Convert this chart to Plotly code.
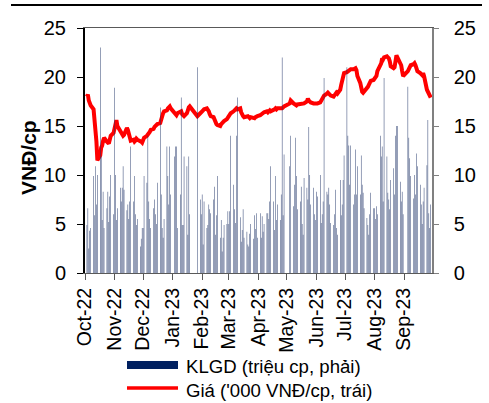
import pandas as pd
import plotly.graph_objects as go

# ---- data ----
months = ["2022-10", "2022-11", "2022-12", "2023-01", "2023-02", "2023-03",
          "2023-04", "2023-05", "2023-06", "2023-07", "2023-08", "2023-09"]
holidays = ["2023-01-02", "2023-01-20", "2023-01-23", "2023-01-24", "2023-01-25",
            "2023-01-26", "2023-05-01", "2023-05-02", "2023-05-03",
            "2023-09-01", "2023-09-04"]

price_oct = [18.0, 18.2, 17.6, 17.3, 17.1, 16.7, 15.8, 14.6, 13.4, 11.5, 12.0, 12.8, 13.0, 13.5, 13.8, 13.4, 13.3, 13.2, 13.6, 14.0, 14.3]
price_nov = [14.8, 15.3, 15.6, 15.0, 14.5, 14.3, 14.2, 14.0, 14.1, 14.8, 14.6, 14.2, 13.9, 13.5, 13.6, 13.4, 13.5, 13.7, 13.6, 13.5, 13.4, 13.3]
price_dec = [13.5, 13.8, 14.0, 14.1, 14.3, 14.4, 14.6, 14.7, 14.9, 15.0, 15.1, 15.2, 15.3, 15.8, 16.1, 16.3, 16.5, 16.6, 16.8, 16.9, 17.0, 16.8]
price_jan = [16.4, 16.3, 16.1, 16.3, 16.4, 16.5, 16.2, 16.0, 16.0, 16.3, 16.7, 16.9, 17.0, 16.0, 16.3, 16.5]
price_feb = [16.5, 16.6, 16.7, 16.8, 16.7, 16.5, 16.2, 16.0, 15.9, 15.6, 15.3, 15.2, 15.1, 15.0, 15.2, 15.3, 15.5, 15.5, 15.7, 15.9]
price_mar = [16.0, 16.2, 16.3, 16.5, 16.6, 16.7, 16.8, 16.7, 16.8, 16.4, 16.1, 16.0, 15.9, 16.0, 16.0, 15.9, 15.8, 15.9, 15.8, 15.8, 15.9, 16.0, 16.0]
price_apr = [16.1, 16.2, 16.3, 16.3, 16.4, 16.5, 16.4, 16.5, 16.6, 16.5, 16.6, 16.7, 16.8, 16.7, 16.8, 16.8, 16.7, 16.8, 16.9, 17.0]
price_may = [17.3, 17.6, 17.3, 17.2, 17.2, 17.1, 17.2, 17.2, 17.3, 17.2, 17.3, 17.3, 17.5, 17.8, 17.6, 17.5, 17.4, 17.3, 17.3, 17.2]
price_jun = [17.3, 17.3, 17.4, 17.6, 17.8, 18.0, 18.1, 18.3, 18.4, 18.3, 18.2, 18.1, 18.0, 18.2, 18.3, 18.4, 18.3, 18.7, 19.2, 19.6, 20.0, 20.4]
price_jul = [20.5, 20.6, 20.6, 20.7, 20.8, 20.8, 20.9, 20.9, 20.7, 20.1, 19.4, 18.7, 18.5, 18.4, 18.5, 18.8, 19.0, 19.2, 19.4, 19.6, 19.7]
price_aug = [19.8, 20.0, 20.1, 20.6, 21.1, 21.4, 21.9, 21.8, 22.0, 22.1, 22.0, 21.9, 21.6, 21.1, 20.9, 21.0, 21.6, 22.2, 22.0, 21.5, 21.2, 20.6, 20.1]
price_sep = [20.6, 20.8, 21.0, 21.2, 21.3, 21.4, 21.2, 20.9, 20.6, 20.4, 20.3, 20.2, 20.4, 20.1, 18.7, 18.5, 18.4, 18.1, 17.9]

vol_oct = [4.9, 6.6, 2.5, 4.3, 4.6, 9.9, 5.9, 10.9, 7.0, 10.0, 23.0, 11.9, 5.4, 8.3, 4.6, 6.6, 8.3, 5.2, 7.8, 10.0, 6.0]
vol_nov = [18.9, 10.0, 5.4, 6.6, 8.7, 7.3, 8.7, 10.9, 8.5, 6.4, 7.0, 5.5, 7.3, 12.9, 7.3, 9.9, 6.0, 4.9, 5.5, 2.7, 3.5, 4.6]
vol_dec = [4.6, 9.9, 9.2, 14.0, 7.3, 5.5, 4.6, 6.6, 7.5, 6.0, 5.0, 9.2, 16.9, 8.0, 4.6, 3.6, 5.5, 12.9, 9.9, 7.0, 12.9, 8.0]
vol_jan = [11.9, 12.9, 12.9, 4.6, 8.0, 17.9, 4.9, 4.9, 11.9, 10.9, 3.9, 11.9, 6.0, 21.0, 7.5, 6.0]
vol_feb = [8.0, 2.9, 7.3, 4.6, 4.9, 7.0, 6.5, 6.1, 7.5, 8.8, 3.9, 5.9, 9.9, 3.6, 5.4, 2.2, 3.6, 4.9, 5.0, 6.3]
vol_mar = [5.0, 6.3, 14.0, 9.0, 6.5, 5.1, 14.0, 17.9, 5.7, 3.2, 4.4, 6.5, 3.6, 4.2, 2.9, 2.7, 4.0, 5.0, 3.5, 5.9, 4.5, 6.1, 3.6]
vol_apr = [6.1, 3.6, 5.8, 4.2, 5.0, 6.1, 6.1, 5.5, 7.3, 10.9, 7.3, 4.4, 9.9, 5.4, 7.0, 5.4, 8.0, 22.0, 5.9, 12.1]
vol_may = [10.9, 14.0, 6.8, 9.0, 13.8, 9.9, 6.5, 7.3, 8.8, 5.0, 3.9, 9.7, 8.7, 7.5, 14.9, 10.0, 7.0, 8.7, 6.0, 5.4]
vol_jun = [8.3, 7.8, 10.0, 5.1, 6.0, 7.3, 19.9, 8.3, 8.0, 8.7, 7.0, 5.1, 4.9, 6.0, 8.5, 4.6, 3.9, 9.5, 5.9, 7.0, 9.5, 12.0]
vol_jul = [21.0, 14.0, 13.0, 9.0, 13.0, 7.0, 8.0, 12.6, 8.0, 10.9, 8.0, 12.0, 9.0, 8.2, 6.6, 5.6, 4.9, 3.9, 6.0, 8.2, 6.6]
vol_aug = [6.6, 5.5, 6.8, 6.0, 14.0, 11.9, 12.9, 7.3, 19.9, 11.9, 8.2, 7.5, 6.5, 9.5, 10.7, 8.0, 14.0, 15.0, 15.0, 9.3, 7.3, 8.3, 6.0]
vol_sep = [19.0, 13.8, 11.7, 9.9, 7.6, 10.0, 8.0, 12.2, 10.9, 9.0, 7.0, 5.0, 7.3, 8.7, 11.0, 15.6, 6.1, 4.6, 7.0]

price_name = "Giá ('000 VNĐ/cp, trái)"
vol_name = "KLGD (triệu cp, phải)"
y_title = "VNĐ/cp"
y_ticks = [0, 5, 10, 15, 20, 25]

price_months = [price_oct, price_nov, price_dec, price_jan, price_feb, price_mar,
                price_apr, price_may, price_jun, price_jul, price_aug, price_sep]
vol_months = [vol_oct, vol_nov, vol_dec, vol_jan, vol_feb, vol_mar,
              vol_apr, vol_may, vol_jun, vol_jul, vol_aug, vol_sep]

# ---- build trading-day calendar ----
hol = set(pd.to_datetime(holidays))
dates, price, vol = [], [], []
for m, p_list, v_list in zip(months, price_months, vol_months):
    start = pd.Timestamp(m + "-01")
    end = start + pd.offsets.MonthEnd(0)
    days = [d for d in pd.bdate_range(start, end) if d not in hol]
    n = min(len(days), len(p_list), len(v_list))
    dates += days[:n]
    price += p_list[:n]
    vol += v_list[:n]

FONT = "Liberation Sans, Arial, sans-serif"

fig = go.Figure()
fig.add_trace(go.Bar(
    x=dates, y=vol, name=vol_name, yaxis="y2",
    marker=dict(color="rgba(31,52,104,0.99)", line=dict(width=0)),
    width=0.5 * 86400000, showlegend=False,
))
fig.add_trace(go.Scatter(
    x=dates, y=price, name=price_name, mode="lines", yaxis="y",
    line=dict(color="#ff0000", width=4), showlegend=False,
))

W, H = 489, 403
# plot area in page px: x 85..432, y 28..273
L, R, T, B = 85, 432, 28, 273
pw, ph = R - L, B - T
def px(x):
    return (x - L) / pw
def py(y):
    return (B - y) / ph

shapes = [
    dict(type="line", xref="paper", yref="paper", x0=px(11), x1=px(482),
         y0=py(5), y1=py(5), line=dict(color="black", width=2)),
    dict(type="rect", xref="paper", yref="paper", x0=px(127), x1=px(178),
         y0=py(369), y1=py(361), fillcolor="#002060", line=dict(width=0)),
    dict(type="line", xref="paper", yref="paper", x0=px(127), x1=px(178),
         y0=py(388), y1=py(388), line=dict(color="#ff0000", width=3.5)),
]
annotations = [
    dict(text=vol_name, xref="paper", yref="paper", x=px(184), y=py(366),
         xanchor="left", yanchor="middle", showarrow=False,
         font=dict(family=FONT, size=18.6, color="black")),
    dict(text=price_name, xref="paper", yref="paper", x=px(184), y=py(390),
         xanchor="left", yanchor="middle", showarrow=False,
         font=dict(family=FONT, size=18.6, color="black")),
    dict(text="<b>" + y_title + "</b>", xref="paper", yref="paper", x=px(29), y=py(158),
         xanchor="center", yanchor="middle", textangle=-90, showarrow=False,
         font=dict(family=FONT, size=21, color="black")),
]

fig.update_layout(
    width=W, height=H,
    margin=dict(l=L, r=W - R, t=T, b=H - B, autoexpand=False),
    paper_bgcolor="white", plot_bgcolor="white",
    font=dict(family=FONT, size=20, color="black"),
    shapes=shapes, annotations=annotations,
    xaxis=dict(
        type="date", range=["2022-10-01", "2023-09-30 08:00"], automargin=False,
        dtick="M1", tick0="2022-10-01", tickformat="%b-%y", tickangle=-90,
        showgrid=False, zeroline=False,
        showline=True, linecolor="#595959", linewidth=1, mirror=True,
        ticks="outside", ticklen=6, tickcolor="#595959",
        tickfont=dict(family=FONT, size=19.5, color="black"),
    ),
    yaxis=dict(
        range=[0, 25], tickvals=y_ticks, showgrid=False, zeroline=False, automargin=False,
        showline=True, linecolor="black", linewidth=2,
        ticks="outside", ticklen=6, tickcolor="black", ticklabelstandoff=7,
        tickfont=dict(family=FONT, size=20, color="black"),
    ),
    yaxis2=dict(
        range=[0, 25], tickvals=y_ticks, overlaying="y", side="right", automargin=False,
        showgrid=False, zeroline=False,
        showline=True, linecolor="#808080", linewidth=1.5,
        ticks="outside", ticklen=5, tickcolor="#808080", ticklabelstandoff=11,
        tickfont=dict(family=FONT, size=20, color="black"),
    ),
)

# remove the browser's default 8px page margin so the figure sits at (0, 0)
fig.write_html("out.html", config={"displayModeBar": False},
               post_script="document.body.style.margin='0px';")
